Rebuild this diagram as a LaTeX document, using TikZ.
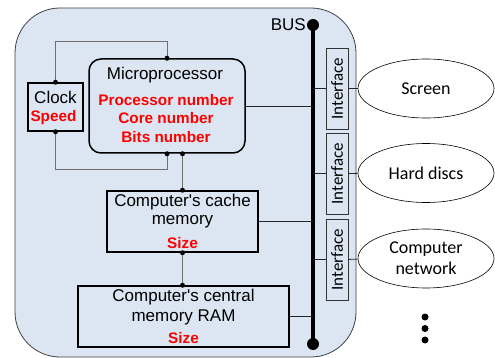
\documentclass[tikz,border=0pt]{standalone}
\usepackage{fontspec}
\setmainfont{Liberation Sans}
\newfontfamily\calfont{Carlito}
\usetikzlibrary{shapes.geometric,calc}
\definecolor{bgblue}{HTML}{DCE6F2}
\definecolor{redtxt}{HTML}{FF0000}
\definecolor{linegray}{HTML}{6F6F6F}
\begin{document}
\begin{tikzpicture}[x=1pt,y=-1pt,
  box/.style={draw=black,line width=1.5pt,fill=bgblue,inner sep=0pt},
  txt/.style={inner sep=0pt,font=\fontsize{17}{19}\selectfont},
  redt/.style={inner sep=0pt,text=redtxt,font=\fontsize{15.3}{18}\selectfont\bfseries},
  gline/.style={draw=linegray,line width=1pt},
  bline/.style={draw=black!85,line width=0.8pt},
  jdot/.style={fill=black},
  iface/.style={draw=black!80,line width=0.8pt,fill=bgblue,rotate=90,minimum width=81pt,minimum height=22pt,inner sep=0pt,font=\calfont\fontsize{17}{19}\selectfont},
  periph/.style={draw=black,line width=0.6pt,fill=white,ellipse,minimum width=136pt,minimum height=59pt,inner sep=0pt,align=center,font=\calfont\fontsize{18}{21}\selectfont}
]
\useasboundingbox (0,0) rectangle (495,358);
\draw[fill=bgblue,draw=black!75,line width=0.8pt,rounded corners=45pt] (15,8) rectangle (356,357);

% boxes
\node[box,rounded corners=12pt,minimum width=156pt,minimum height=94pt] (mp) at (167,106) {};
\node[txt] (mpt) at (165,75) {Microprocessor};
\node[redt] (mp1) at (166,100) {Processor number};
\node[redt] (mp2) at (166,118.5) {Core number};
\node[redt] (mp3) at (166,137) {Bits number};

\node[box,minimum width=55pt,minimum height=48pt] (clk) at (55.5,107) {};
\node[txt] (clkt) at (55.5,97) {Clock};
\node[redt] (clks) at (53.5,117.5) {Speed};

\node[box,minimum width=151pt,minimum height=61pt] (cache) at (182.5,221.5) {};
\node[txt] (cache1) at (182.5,202) {Computer\textquotesingle s cache};
\node[txt] (cache2) at (182.5,222) {memory};
\node[redt] (cache3) at (182.5,243) {Size};

\node[box,minimum width=211pt,minimum height=61pt] (ram) at (183.5,316.5) {};
\node[txt] (ram1) at (183.5,297) {Computer\textquotesingle s central};
\node[txt] (ram2) at (183.5,317) {memory RAM};
\node[redt] (ram3) at (183.5,338) {Size};

% bus
\coordinate (bustop) at (313,25);
\coordinate (busbot) at (313,344);
\coordinate (loopt) at (0,42);
\coordinate (loopb) at (0,170);
\draw[line width=4pt] (bustop) -- (busbot);
\fill (bustop) circle (6pt);
\fill (busbot) circle (6pt);
\node[txt,anchor=east] (buslbl) at ($(bustop)+(-7,0)$) {BUS};

% clock loop
\draw[gline] (clk.north) -- (clk.north |- loopt) -| (mp.north);
\draw[gline] (clk.south) -- (clk.south |- loopb) -| (mp.south);
\draw[gline] (mp.south -| cache.north) -- (cache.north);
\draw[gline] (cache.south) -- (cache.south |- ram.north);
\foreach \p in {clk.north,clk.south,mp.north,mp.south,cache.north,cache.south}
  \fill[jdot] (\p) circle (2.5pt);
\fill[jdot] (mp.south -| cache.north) circle (2.5pt);
\fill[jdot] (cache.south |- ram.north) circle (2.5pt);

% links to bus
\draw[bline] (mp.east) -- (mp.east -| bustop);
\draw[bline] (cache.east) -- (cache.east -| bustop);
\draw[bline] (ram.east) -- (ram.east -| bustop);

% interfaces
\node[iface] (if1) at (337,88.5) {Interface};
\node[iface] (if2) at (337,173.5) {Interface};
\node[iface] (if3) at (337,259.5) {Interface};
\node[periph] (scr) at (426,88.5) {Screen};
\node[periph] (hd) at (426,173) {Hard discs};
\node[periph] (net) at (426,258.5) {Computer\\network};
\draw[bline] (bustop |- if1) -- (if1);
\draw[bline] (bustop |- if2) -- (if2);
\draw[bline] (bustop |- if3) -- (if3);
\draw[bline] (if1) -- (scr);
\draw[bline] (if2) -- (hd);
\draw[bline] (if3) -- (net);

% more dots
\fill (425,317) circle (3.5pt);
\fill (425,328.5) circle (3.5pt);
\fill (425,340) circle (3.5pt);
\end{tikzpicture}
\end{document}
